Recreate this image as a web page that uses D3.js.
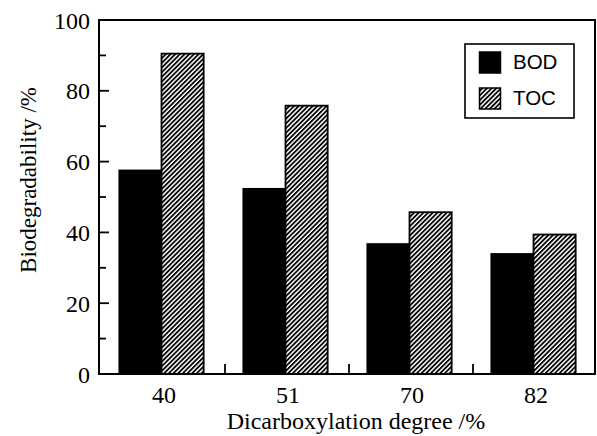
<!DOCTYPE html>
<html>
<head>
<meta charset="utf-8">
<script src="https://cdn.jsdelivr.net/npm/d3@7"></script>
<style>
  html, body { margin: 0; padding: 0; background: #fff; }
  svg { display: block; }
</style>
</head>
<body>
<svg id="chart" width="597" height="436"></svg>
<script>
const categories = ["40", "51", "70", "82"];
const seriesNames = ["BOD", "TOC"];
const bodValues = [57.5, 52.3, 36.7, 33.9];
const tocValues = [90.5, 75.8, 45.7, 39.4];
const yTicks = [0, 20, 40, 60, 80, 100];
const yMinorTicks = [10, 30, 50, 70, 90];
const xTitle = "Dicarboxylation degree /%";
const yTitle = "Biodegradability /%";

const svg = d3.select("#chart");
const plotL = 99, plotR = 595, plotT = 20, plotB = 374;

const defs = svg.append("defs");
const pat = defs.append("pattern")
  .attr("id", "hatch")
  .attr("patternUnits", "userSpaceOnUse")
  .attr("width", 3.3).attr("height", 10)
  .attr("patternTransform", "rotate(45)");
pat.append("rect").attr("width", 3.3).attr("height", 10).attr("fill", "#fff");
pat.append("line").attr("x1", 0.9).attr("x2", 0.9).attr("y1", 0).attr("y2", 10)
  .attr("stroke", "#000").attr("stroke-width", 1.8);

const y = d3.scaleLinear().domain([0, 100]).range([plotB, plotT]);
const x0 = d3.scaleBand().domain(categories).range([101, 597])
  .paddingInner(0.32).paddingOuter(0.16);
const x1 = d3.scaleBand().domain(seriesNames).range([-1.5, x0.bandwidth() - 1.5]);

const data = categories.map((c, i) => ({cat: c, vals: [
  {name: "BOD", v: bodValues[i]}, {name: "TOC", v: tocValues[i]}]}));

const g = svg.append("g");
const groups = g.selectAll("g.grp").data(data).join("g")
  .attr("transform", d => `translate(${x0(d.cat)},0)`);
groups.selectAll("rect").data(d => d.vals).join("rect")
  .attr("x", d => x1(d.name))
  .attr("width", x1.bandwidth())
  .attr("y", d => y(d.v))
  .attr("height", d => y(0) - y(d.v))
  .attr("fill", d => d.name === "BOD" ? "#000" : "url(#hatch)")
  .attr("stroke", "#000").attr("stroke-width", 1.8);

// frame
svg.append("rect").attr("x", plotL).attr("y", plotT)
  .attr("width", plotR - plotL).attr("height", plotB - plotT)
  .attr("fill", "none").attr("stroke", "#000").attr("stroke-width", 2);

// y ticks (inward)
svg.selectAll("line.ymaj").data(yTicks).join("line")
  .attr("x1", plotL).attr("x2", plotL + 10)
  .attr("y1", d => y(d)).attr("y2", d => y(d))
  .attr("stroke", "#000").attr("stroke-width", 1.8);
svg.selectAll("line.ymin").data(yMinorTicks).join("line")
  .attr("x1", plotL).attr("x2", plotL + 7)
  .attr("y1", d => y(d)).attr("y2", d => y(d))
  .attr("stroke", "#000").attr("stroke-width", 1.8);
svg.selectAll("text.ylab").data(yTicks).join("text")
  .attr("x", 90).attr("y", d => y(d) + 8.5)
  .attr("text-anchor", "end")
  .attr("font-family", "Liberation Serif, Times New Roman, serif")
  .attr("font-size", 24)
  .text(d => d);

// x separator ticks (inward, pointing up)
const step = x0.step();
const seps = categories.slice(1).map(c => x0(c) - step * x0.paddingInner() / 2);
svg.selectAll("line.xsep").data(seps).join("line")
  .attr("x1", d => d).attr("x2", d => d)
  .attr("y1", plotB).attr("y2", plotB - 10)
  .attr("stroke", "#000").attr("stroke-width", 1.8);
svg.selectAll("text.xlab").data(categories).join("text")
  .attr("x", d => x0(d) + x0.bandwidth() / 2 + 1)
  .attr("y", 403)
  .attr("text-anchor", "middle")
  .attr("font-family", "Liberation Serif, Times New Roman, serif")
  .attr("font-size", 24)
  .text(d => d);

// titles
svg.append("text").attr("x", 356).attr("y", 429)
  .attr("text-anchor", "middle")
  .attr("font-family", "Liberation Serif, Times New Roman, serif")
  .attr("font-size", 24).text(xTitle);
svg.append("text")
  .attr("transform", "translate(36,180) rotate(-90)")
  .attr("text-anchor", "middle")
  .attr("font-family", "Liberation Serif, Times New Roman, serif")
  .attr("font-size", 23).text(yTitle);

// legend
const lg = svg.append("g");
lg.append("rect").attr("x", 465).attr("y", 44).attr("width", 109).attr("height", 74)
  .attr("fill", "#fff").attr("stroke", "#000").attr("stroke-width", 1.6);
const legY = d3.scalePoint().domain(seriesNames).range([52, 88]);
lg.selectAll("rect.sw").data(seriesNames).join("rect")
  .attr("x", 479.5).attr("y", d => legY(d))
  .attr("width", 21).attr("height", 21)
  .attr("fill", d => d === "BOD" ? "#000" : "url(#hatch)")
  .attr("stroke", "#000").attr("stroke-width", 1.5);
lg.selectAll("text.lt").data(seriesNames).join("text")
  .attr("x", 513).attr("y", d => legY(d) + 16.5)
  .attr("font-family", "Liberation Sans, Arial, sans-serif")
  .attr("font-size", 20.5)
  .text(d => d);
</script>
</body>
</html>
